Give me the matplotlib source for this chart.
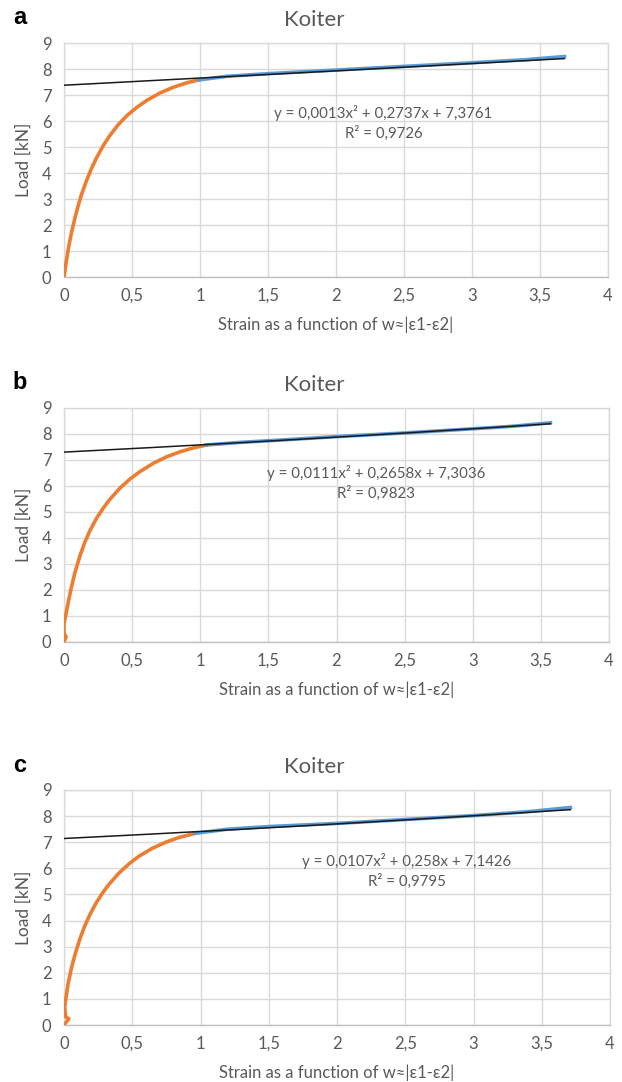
import matplotlib
matplotlib.use("Agg")
import matplotlib.pyplot as plt
import numpy as np

plt.rcParams['font.family'] = ['Lato', 'DejaVu Sans']

# ---- data -------------------------------------------------------------
panel_letters = ["a", "b", "c"]
titles = ["Koiter", "Koiter", "Koiter"]

# pre-buckling (orange) part of each load/strain curve
orange_x_a = [0, 0.005, 0.017, 0.034, 0.054, 0.079, 0.103, 0.128, 0.165, 0.202, 0.239, 0.288,
              0.337, 0.399, 0.461, 0.534, 0.608, 0.707, 0.805, 0.904, 0.99]
orange_y_a = [0, 0.18, 0.6, 1.15, 1.68, 2.24, 2.72, 3.16, 3.70, 4.17, 4.58, 5.05,
              5.44, 5.86, 6.20, 6.52, 6.79, 7.08, 7.30, 7.47, 7.58]
orange_x_b = [0, 0.015, 0.0, 0.0, 0.012, 0.03, 0.054, 0.079, 0.116, 0.153, 0.19, 0.239, 0.288,
              0.337, 0.411, 0.485, 0.559, 0.658, 0.756, 0.855, 0.953, 1.05]
orange_y_b = [0, 0.2, 0.35, 0.7, 1.0, 1.5, 2.1, 2.64, 3.3, 3.84, 4.28, 4.76, 5.15,
              5.49, 5.92, 6.27, 6.56, 6.88, 7.13, 7.32, 7.47, 7.58]
orange_x_c = [0, 0.036, 0.012, 0.005, 0.01, 0.029, 0.053, 0.078, 0.114, 0.15, 0.187, 0.235, 0.284,
              0.333, 0.405, 0.478, 0.551, 0.648, 0.745, 0.842, 0.96]
orange_y_c = [0, 0.24, 0.31, 0.69, 0.88, 1.55, 2.15, 2.65, 3.26, 3.77, 4.2, 4.67, 5.07,
              5.41, 5.83, 6.18, 6.47, 6.77, 7.0, 7.18, 7.34]

# post-buckling (blue) part of each curve
blue_x_a = [0.99, 1.2, 1.5, 2.0, 2.5, 3.0, 3.4, 3.68]
blue_y_a = [7.58, 7.72, 7.82, 7.96, 8.10, 8.24, 8.36, 8.48]
blue_x_b = [1.05, 1.3, 1.6, 2.0, 2.5, 3.0, 3.3, 3.57]
blue_y_b = [7.58, 7.68, 7.77, 7.90, 8.04, 8.20, 8.30, 8.43]
blue_x_c = [0.96, 1.2, 1.5, 2.0, 2.5, 3.0, 3.4, 3.71]
blue_y_c = [7.34, 7.50, 7.60, 7.72, 7.87, 8.02, 8.17, 8.33]

# quadratic trend line coefficients (a2, a1, a0) and R^2
trend_a = (0.0013, 0.2737, 7.3761, 0.9726)
trend_b = (0.0111, 0.2658, 7.3036, 0.9823)
trend_c = (0.0107, 0.258, 7.1426, 0.9795)

x_ticks = [0, 0.5, 1, 1.5, 2, 2.5, 3, 3.5, 4]
y_ticks = [0, 1, 2, 3, 4, 5, 6, 7, 8, 9]

panels = [
    (orange_x_a, orange_y_a, blue_x_a, blue_y_a, trend_a),
    (orange_x_b, orange_y_b, blue_x_b, blue_y_b, trend_b),
    (orange_x_c, orange_y_c, blue_x_c, blue_y_c, trend_c),
]

# ---- layout -----------------------------------------------------------
W, H = 622, 1082
fig = plt.figure(figsize=(W / 100, H / 100), dpi=100)

# plot-area boxes in pixels: (left, top, right, bottom)
boxes = [(64, 43, 608, 277), (64, 408, 609, 642), (64, 790, 610, 1025)]
# equation anchor (data coords): x centre, y of equation line, y of R^2 line
eq_pos = [(2.35, 6.29, 5.52), (2.29, 6.50, 5.73), (2.51, 6.28, 5.52)]

ORANGE = "#ED7D31"
BLUE = "#5B9BD5"
GRID = "#D9D9D9"
TXT = "#595959"


def coef_str(v):
    return repr(v).replace(".", ",")


for i, ((ox, oy, bx, by, tr), (l, t, r, b), (ex, ey1, ey2)) in enumerate(zip(panels, boxes, eq_pos)):
    ax = fig.add_axes([l / W, 1 - b / H, (r - l) / W, (b - t) / H])
    ax.set_xlim(0, 4)
    ax.set_ylim(0, 9)
    ax.set_xticks(x_ticks)
    ax.set_yticks(y_ticks)
    ax.set_xticklabels([str(v).replace(".", ",") if v != int(v) else str(int(v)) for v in x_ticks])
    ax.set_yticklabels([str(v) for v in y_ticks])
    ax.tick_params(length=0, labelsize=12, labelcolor=TXT)
    ax.tick_params(axis="y", pad=9)
    ax.tick_params(axis="x", pad=8)
    ax.grid(True, color=GRID, linewidth=1.0)
    ax.set_axisbelow(True)
    for sp in ax.spines.values():
        sp.set_color(GRID)
        sp.set_linewidth(1.0)
    ax.spines["bottom"].set_color("#BFBFBF")

    a2, a1, a0, r2 = tr
    ax.plot(ox, oy, color=ORANGE, linewidth=2.6, solid_joinstyle="round", solid_capstyle="round", zorder=3)
    ax.plot(bx, by, color=BLUE, linewidth=2.6, solid_joinstyle="round", zorder=3)
    xt = np.linspace(0, bx[-1], 200)
    ax.plot(xt, a2 * xt ** 2 + a1 * xt + a0, color="#1a1a1a", linewidth=1.1, zorder=4)

    eq = f"y = {coef_str(a2)}x² + {coef_str(a1)}x + {coef_str(a0)}"
    ax.text(ex, ey1, eq, ha="center", va="center", fontsize=10.8, color=TXT)
    ax.text(ex, ey2, f"R² = {coef_str(r2)}", ha="center", va="center", fontsize=10.8, color=TXT)

    ax.set_ylabel("Load [kN]", fontsize=12.5, color=TXT, labelpad=7)
    ax.set_xlabel("Strain as a function of w≈|ε1-ε2|", fontsize=12, color=TXT, labelpad=9)

    fig.text(314 / W, 1 - (t - 23) / H, titles[i], fontsize=16, color=TXT, ha="center", va="center")
    fig.text(20 / W, 1 - (t - 25) / H, panel_letters[i], fontsize=17, fontweight="bold",
             family=["Liberation Sans", "DejaVu Sans"], ha="center", va="center", color="black")

fig.savefig("out.png", dpi=100)
